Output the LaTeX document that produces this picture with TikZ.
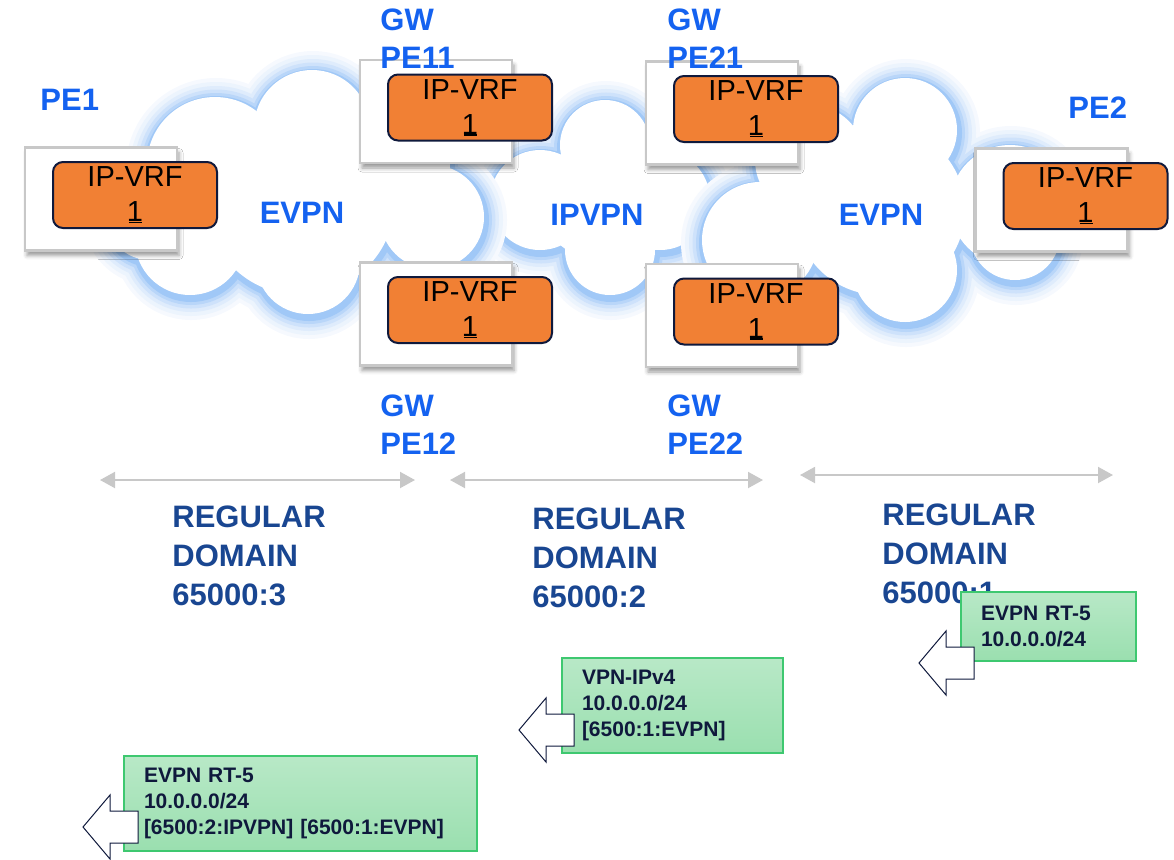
\documentclass[tikz,border=0pt]{standalone}
\usepackage{fontspec}
\setmainfont{Liberation Sans}
\usetikzlibrary{positioning}
\usetikzlibrary{arrows.meta}
\usetikzlibrary{shadows.blur}
\definecolor{labelblue}{RGB}{20,98,240}
\definecolor{domainblue}{RGB}{25,70,145}
\definecolor{vrforange}{RGB}{241,128,52}
\definecolor{navy}{RGB}{15,25,60}
\definecolor{glowblue}{RGB}{120,176,244}
\definecolor{routegreen}{RGB}{154,223,175}
\definecolor{routeedge}{RGB}{62,200,112}
\definecolor{boxgray}{RGB}{200,200,200}
\tikzset{x=0.5pt, y=-0.5pt,
    pebox/.style={
        draw=boxgray, line width=1.3pt, fill=white,
        minimum width=76pt, minimum height=51.5pt,
        blur shadow={shadow xshift=1pt, shadow yshift=-2.5pt,
            shadow blur radius=2pt, shadow opacity=40}},
    vrf/.style={
        draw=navy, line width=1pt, fill=vrforange,
        rounded corners=5pt, inner sep=0pt,
        minimum width=82pt, minimum height=33pt, align=center,
        font=\fontsize{14.5}{17.5}\selectfont},
    pelabel/.style={
        text=labelblue, inner sep=0pt, anchor=west, align=left,
        font=\fontsize{15.5}{19}\selectfont\bfseries},
    domainlabel/.style={
        text=domainblue, inner sep=0pt, anchor=west, align=left,
        font=\fontsize{15.5}{19.5}\selectfont\bfseries},
    route/.style={
        draw=routeedge, line width=0.8pt,
        top color=routegreen!70!white, bottom color=routegreen,
        text=navy, align=left, inner xsep=10pt,
        font=\fontsize{10.5}{13}\selectfont\bfseries},
    advert/.style={draw=navy, line width=0.5pt, fill=white},
    every edge/.style={
        draw, boxgray, line width=1pt,
        {Triangle[length=7.5pt,width=8pt]}-{Triangle[length=7.5pt,width=8pt]}}}
% cloud = circles with a soft blue rim
\newcommand\cloud[1]{%
    \foreach \w/\c in {22/7,18/14,14/24,10.5/36,7/52,4/70}
        {\foreach \cx/\cy/\r in {#1}
            \draw[line width=\w pt, glowblue!\c, xshift=0.5pt, yshift=-1.5pt]
                (\cx,\cy) circle (\r);}
    \foreach \cx/\cy/\r in {#1}
        \fill[white] (\cx,\cy) circle (\r);}
\newcommand\vrfone{1\llap{\rule[-0.9pt]{6.5pt}{0.9pt}\hspace{0.4pt}}}

\begin{document}
\begin{tikzpicture}
    \useasboundingbox (0,0) rectangle (1174,859);

    % clouds
    \cloud{605/145/45, 540/200/50, 610/250/45, 660/200/50, 600/200/60}
    \cloud{215/165/68, 312/128/58, 400/165/50, 432/217/52, 308/262/52,
        190/240/55, 150/215/45, 300/200/95}
    \cloud{905/130/52, 810/160/55, 760/240/58, 905/270/52, 1010/205/60,
        1015/235/45, 880/210/85}

    \node[pelabel,anchor=center] (evpn1) at (302,213) {EVPN};
    \node[pelabel,anchor=center] (ipvpn) at (597,215) {IPVPN};
    \node[pelabel,anchor=center] (evpn2) at (881,215) {EVPN};

    % routers
    \node[pebox] (pe1) at (101,199) {};
    \node[pebox] (gw11) at (436,111.5) {};
    \node[pebox] (gw12) at (436,314) {};
    \node[pebox] (gw21) at (722,113) {};
    \node[pebox] (gw22) at (722,315.5) {};
    \node[pebox] (pe2) at (1051.5,200) {};

    \node[vrf] (vrf1) at ([shift={(34,-4)}]pe1.center) {IP-VRF\\\vrfone};
    \node[vrf] (vrf11) at ([shift={(34,-4)}]gw11.center) {IP-VRF\\\vrfone};
    \node[vrf] (vrf12) at ([shift={(34,-4)}]gw12.center) {IP-VRF\\\vrfone};
    \node[vrf] (vrf21) at ([shift={(34,-4)}]gw21.center) {IP-VRF\\\vrfone};
    \node[vrf] (vrf22) at ([shift={(34,-4)}]gw22.center) {IP-VRF\\\vrfone};
    \node[vrf] (vrf2) at ([shift={(34,-4)}]pe2.center) {IP-VRF\\\vrfone};

    \node[pelabel] (lpe1) at (40,100) {PE1};
    \node[pelabel] (lgw11) at (380,39) {GW\\PE11};
    \node[pelabel] (lgw12) at (380,425) {GW\\PE12};
    \node[pelabel] (lgw21) at (667,39) {GW\\PE21};
    \node[pelabel] (lgw22) at (667,425) {GW\\PE22};
    \node[pelabel] (lpe2) at (1068,108) {PE2};

    % domains
    \coordinate (d3l) at (100,480);
    \coordinate (d3r) at (415,480);
    \coordinate (d2l) at (450,480);
    \coordinate (d2r) at (763,480);
    \coordinate (d1l) at (800,475);
    \coordinate (d1r) at (1113,475);
    \draw (d3l) edge (d3r);
    \draw (d2l) edge (d2r);
    \draw (d1l) edge (d1r);

    \node[domainlabel] (dom3) at (172,556) {REGULAR\\DOMAIN\\65000:3};
    \node[domainlabel] (dom2) at (532,558) {REGULAR\\DOMAIN\\65000:2};
    \node[domainlabel] (dom1) at (882,554) {REGULAR\\DOMAIN\\65000:1};

    % advertised routes
    \node[route,minimum width=87.5pt,minimum height=34.5pt,text width=67.5pt]
        (rt5) at (1048.5,626.5) {EVPN RT-5\\10.0.0.0/24};
    \node[route,minimum width=110.5pt,minimum height=47.5pt,text width=90.5pt]
        (vpnv4) at (672.5,705.5) {VPN-IPv4\\10.0.0.0/24\\{[6500:1:EVPN]}};
    \node[route,minimum width=176.5pt,minimum height=47.5pt,text width=156.5pt]
        (rt5b) at (300.5,803.5) {EVPN RT-5\\10.0.0.0/24\\{[6500:2:IPVPN] [6500:1:EVPN]}};

    \draw[advert] (919,663) -- ++(27,-32) -- ++(0,16) -- ++(28,0) -- ++(0,32)
        -- ++(-28,0) -- ++(0,16) -- cycle;
    \draw[advert] (519,730) -- ++(27,-32) -- ++(0,16) -- ++(28,0) -- ++(0,32)
        -- ++(-28,0) -- ++(0,16) -- cycle;
    \draw[advert] (83,827) -- ++(27,-32) -- ++(0,16) -- ++(28,0) -- ++(0,32)
        -- ++(-28,0) -- ++(0,16) -- cycle;
\end{tikzpicture}
\end{document}
